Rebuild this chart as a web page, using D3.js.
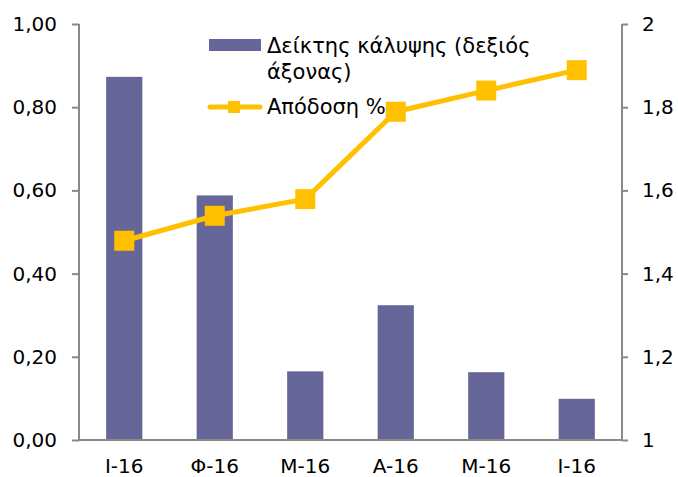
<!DOCTYPE html>
<html><head><meta charset="utf-8">
<script src="https://cdn.jsdelivr.net/npm/d3@7"></script>
<style>body{margin:0;background:#fff}svg{display:block}text{font-family:"DejaVu Sans",Verdana,sans-serif}</style>
</head><body>
<svg id="c" width="678" height="477"></svg>
<script>
const categories = ["I-16","Φ-16","M-16","A-16","M-16","I-16"];
const coverage = [1.873,1.588,1.165,1.324,1.163,1.099];   // right axis (bars)
const yieldPct = [0.479,0.539,0.579,0.789,0.840,0.889];    // left axis (line)
const leftTicks = [0,0.2,0.4,0.6,0.8,1.0];
const rightTicks = [1,1.2,1.4,1.6,1.8,2];
const seriesNames = ["Δείκτης κάλυψης (δεξιός", "άξονας)", "Απόδοση %"];

const svg = d3.select("#c");
const L = 79, R = 622, T = 24, B = 440;
const x = d3.scaleBand().domain(d3.range(categories.length)).range([L,R]).paddingInner(0.6).paddingOuter(0.3);
const yL = d3.scaleLinear().domain([0,1]).range([B,T]);
const yR = d3.scaleLinear().domain([1,2]).range([B,T]);
const axisColor = "#898989", fs = 20, lfs = 21;

// bars
svg.append("g").selectAll("rect").data(coverage).join("rect")
  .attr("x",(d,i)=>x(i)).attr("width",x.bandwidth())
  .attr("y",d=>yR(d)).attr("height",d=>B-yR(d))
  .attr("fill","#666699");

// axes
const la = svg.append("g").attr("transform",`translate(${L},0)`)
  .call(d3.axisLeft(yL).tickValues(leftTicks).tickSize(7).tickPadding(15).tickFormat(d=>d3.format(".2f")(d).replace(".",",")));
const ra = svg.append("g").attr("transform",`translate(${R},0)`)
  .call(d3.axisRight(yR).tickValues(rightTicks).tickSize(6).tickPadding(14).tickFormat(d=>d3.format("~g")(d).replace(".",",")));
const xa = svg.append("g").attr("transform",`translate(0,${B})`)
  .call(d3.axisBottom(x).tickSize(0).tickPadding(19).tickFormat(i=>categories[i]));
[la,ra,xa].forEach(a=>{
  a.select(".domain").attr("stroke",axisColor).attr("stroke-width",2);
  a.selectAll(".tick line").attr("stroke",axisColor).attr("stroke-width",2);
  a.selectAll("text").attr("font-size",fs).attr("fill","#000").attr("font-family",'"DejaVu Sans",Verdana,sans-serif');
});
la.select(".domain").attr("d",`M0,${T}V${B}`);
ra.select(".domain").attr("d",`M0,${T}V${B}`);
xa.select(".domain").attr("d",`M${L},0H${R}`);

// line
const cx = i => x(i)+x.bandwidth()/2;
svg.append("path").datum(yieldPct)
  .attr("d",d3.line().x((d,i)=>cx(i)).y(d=>yL(d)))
  .attr("fill","none").attr("stroke","#FFC000").attr("stroke-width",5).attr("stroke-linejoin","round");
svg.append("g").selectAll("rect").data(yieldPct).join("rect")
  .attr("x",(d,i)=>cx(i)-10).attr("y",d=>yL(d)-10).attr("width",20).attr("height",20)
  .attr("fill","#FFC000");

// legend
const lg = svg.append("g");
lg.append("rect").attr("x",209).attr("y",39).attr("width",52).attr("height",12).attr("fill","#666699");
lg.append("text").attr("x",267).attr("y",53).attr("font-size",lfs).text(seriesNames[0]);
lg.append("text").attr("x",267).attr("y",79).attr("font-size",lfs).text(seriesNames[1]);
lg.append("line").attr("x1",210).attr("x2",260).attr("y1",107).attr("y2",107)
  .attr("stroke","#FFC000").attr("stroke-width",5).attr("stroke-linecap","round");
lg.append("rect").attr("x",228).attr("y",101).attr("width",12).attr("height",12).attr("fill","#FFC000");
lg.append("text").attr("x",267).attr("y",114).attr("font-size",lfs).text(seriesNames[2]);
</script>
</body></html>
